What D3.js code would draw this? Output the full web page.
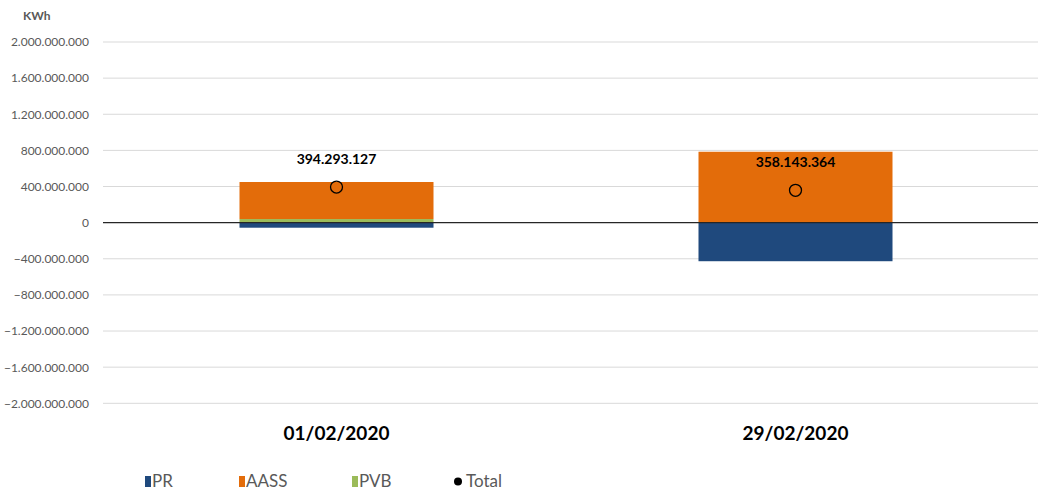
<!DOCTYPE html>
<html>
<head>
<meta charset="utf-8">
<script src="https://cdn.jsdelivr.net/npm/d3@7"></script>
<style>
  body { margin: 0; background: #fff; }
  svg { font-family: Lato, "Open Sans", sans-serif; }
</style>
</head>
<body>
<div class="viz"></div>
<script>
const width = 1038;
const height = 491;

// data
const categories = ["01/02/2020", "29/02/2020"];
const seriesNames = ["PR", "AASS", "PVB"];
const prValues = [-56000000, -427000000];
const aassValues = [410000000, 785000000];
const pvbValues = [40000000, 0];
const totalValues = [394293127, 358143364];
const yTicks = [2000000000, 1600000000, 1200000000, 800000000, 400000000, 0,
  -400000000, -800000000, -1200000000, -1600000000, -2000000000];

const colors = { PR: "#1f497d", AASS: "#e36c0a", PVB: "#9bbb59" };

const locale = d3.formatLocale({ decimal: ",", thousands: ".", grouping: [3], currency: ["", ""] });
const fmt = locale.format(",d");

const svg = d3.select(".viz").append("svg").attr("width", width).attr("height", height);

const x = d3.scaleBand().domain(categories).range([107, 1025]);
const y = d3.scaleLinear().domain([-2000000000, 2000000000]).range([403.3, 42]);
const barW = 194;

// gridlines
svg.append("g")
  .selectAll("line")
  .data(yTicks.filter((d) => d !== 0))
  .join("line")
  .attr("x1", 103)
  .attr("x2", width)
  .attr("y1", (d) => y(d))
  .attr("y2", (d) => y(d))
  .attr("stroke", "#d9d9d9")
  .attr("stroke-width", 1);

// y axis labels
const yAxis = svg.append("g")
  .attr("transform", "translate(97,0)")
  .call(d3.axisLeft(y).tickValues(yTicks).tickFormat(fmt).tickSize(0).tickPadding(8));
yAxis.select(".domain").remove();
yAxis.selectAll("text").attr("font-size", 12).attr("fill", "#595959").attr("font-family", "Lato, sans-serif");

svg.append("text")
  .attr("x", 23)
  .attr("y", 20)
  .attr("font-size", 12)
  .attr("font-weight", "bold")
  .attr("fill", "#595959")
  .text("KWh");

// stacked bars: negatives go down, positives stack PVB then AASS
const rows = categories.map((c, i) => ({
  cat: c,
  PR: prValues[i],
  AASS: aassValues[i],
  PVB: pvbValues[i],
}));
const segs = [];
rows.forEach((r) => {
  let pos = 0, neg = 0;
  ["PR", "PVB", "AASS"].forEach((k) => {
    const v = r[k];
    if (v >= 0) { segs.push({ cat: r.cat, key: k, y0: pos, y1: pos + v }); pos += v; }
    else { segs.push({ cat: r.cat, key: k, y0: neg + v, y1: neg }); neg += v; }
  });
});

svg.append("g")
  .selectAll("rect")
  .data(segs.filter((d) => d.y1 !== d.y0))
  .join("rect")
  .attr("x", (d) => x(d.cat) + x.bandwidth() / 2 - barW / 2)
  .attr("width", barW)
  .attr("y", (d) => y(d.y1))
  .attr("height", (d) => y(d.y0) - y(d.y1))
  .attr("fill", (d) => colors[d.key]);

// zero line
svg.append("line")
  .attr("x1", 103)
  .attr("x2", width)
  .attr("y1", y(0))
  .attr("y2", y(0))
  .attr("stroke", "#262626")
  .attr("stroke-width", 1.3);

// total markers + labels
const totals = categories.map((c, i) => ({ cat: c, v: totalValues[i] }));
svg.append("g")
  .selectAll("circle")
  .data(totals)
  .join("circle")
  .attr("cx", (d) => x(d.cat) + x.bandwidth() / 2)
  .attr("cy", (d) => y(d.v))
  .attr("r", 6)
  .attr("fill", "none")
  .attr("stroke", "#000")
  .attr("stroke-width", 1.3);

svg.append("g")
  .selectAll("text")
  .data(totals)
  .join("text")
  .attr("x", (d) => x(d.cat) + x.bandwidth() / 2)
  .attr("y", (d) => y(d.v) - 23)
  .attr("text-anchor", "middle")
  .attr("font-size", 14)
  .attr("font-weight", "bold")
  .attr("fill", "#000")
  .text((d) => fmt(d.v));

// category labels
svg.append("g")
  .selectAll("text")
  .data(categories)
  .join("text")
  .attr("x", (d) => x(d) + x.bandwidth() / 2)
  .attr("y", 440)
  .attr("text-anchor", "middle")
  .attr("font-size", 19)
  .attr("font-weight", "bold")
  .attr("fill", "#000")
  .text((d) => d);

// legend
const legendX = [145, 239, 352, 453];
const legend = svg.append("g");
seriesNames.forEach((s, i) => {
  legend.append("rect")
    .attr("x", legendX[i]).attr("y", 476).attr("width", 6).attr("height", 11)
    .attr("fill", colors[s]);
  legend.append("text")
    .attr("x", legendX[i] + 7).attr("y", 487)
    .attr("font-size", 17).attr("fill", "#595959")
    .text(s);
});
legend.append("circle").attr("cx", legendX[3] + 5).attr("cy", 481.5).attr("r", 4).attr("fill", "#000");
legend.append("text")
  .attr("x", legendX[3] + 13).attr("y", 487)
  .attr("font-size", 17).attr("fill", "#595959")
  .text("Total");
</script>
</body>
</html>
